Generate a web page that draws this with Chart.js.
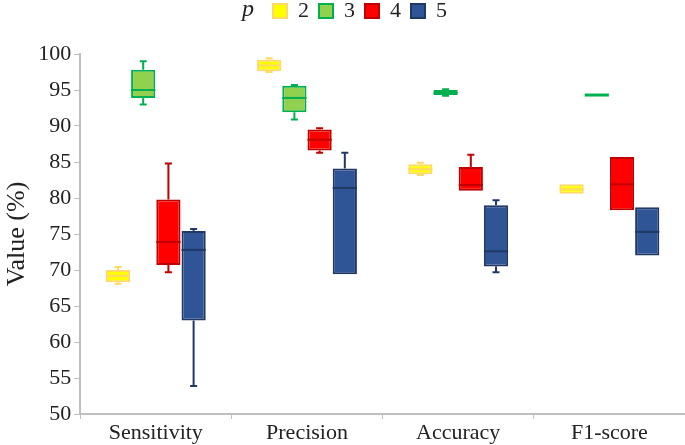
<!DOCTYPE html>
<html>
<head>
<meta charset="utf-8">
<script src="https://cdn.jsdelivr.net/npm/chart.js@4.4.1/dist/chart.umd.min.js"></script>
<style>
  html, body { margin: 0; padding: 0; background: #fff; }
  #wrap { width: 685px; height: 445px; position: relative; }
</style>
</head>
<body>
<div id="wrap"><canvas id="boxChart"></canvas></div>
<script>
// categories and legend names
const categories = ['Sensitivity', 'Precision', 'Accuracy', 'F1-score'];
const seriesNames = ['2', '3', '4', '5'];
const yTicks = [50, 55, 60, 65, 70, 75, 80, 85, 90, 95, 100];

// [min, q1, median, q3, max] per category, one list per p
const p2Stats = [[68.1, 68.3, 69.2, 70.0, 70.4], [97.5, 97.6, 98.4, 99.2, 99.4], [83.2, 83.3, 84.0, 84.7, 84.9], [80.6, 80.6, 81.2, 81.9, 81.9]];
const p3Stats = [[93.0, 93.9, 95.0, 97.8, 99.0], [90.9, 91.9, 93.9, 95.6, 95.7], [94.2, 94.3, 94.6, 95.0, 95.1], [94.3, 94.3, 94.3, 94.3, 94.3]];
const p4Stats = [[69.7, 70.7, 73.9, 79.8, 84.8], [86.3, 86.6, 88.1, 89.5, 89.7], [81.0, 81.0, 81.8, 84.3, 86.0], [78.3, 78.3, 81.9, 85.7, 85.7]];
const p5Stats = [[53.9, 63.0, 72.8, 75.4, 75.7], [69.4, 69.4, 81.4, 84.1, 86.3], [69.7, 70.5, 72.6, 79.0, 79.7], [72.0, 72.0, 75.3, 78.7, 78.7]];

const allStats = [p2Stats, p3Stats, p4Stats, p5Stats];
const fills = ['#FFFF00', '#92D050', '#FF0000', '#2F5597'];
const borders = ['#FFD966', '#00B050', '#C00000', '#203864'];

const serif = "'Liberation Serif', 'Times New Roman', serif";
const axisGrey = '#BFBFBF';

// whiskers + medians drawn on top of the floating bars
const boxParts = {
  id: 'boxParts',
  afterDatasetsDraw(chart) {
    const ctx = chart.ctx;
    const y = chart.scales.y;
    chart.data.datasets.forEach((ds, i) => {
      const meta = chart.getDatasetMeta(i);
      meta.data.forEach((bar, j) => {
        const s = allStats[i][j];
        const half = bar.width / 2;
        const cap = 3.5;
        ctx.save();
        ctx.strokeStyle = borders[i];
        ctx.lineWidth = 2;
        if (s[4] > s[3]) {
          ctx.beginPath();
          ctx.moveTo(bar.x, y.getPixelForValue(s[3]));
          ctx.lineTo(bar.x, y.getPixelForValue(s[4]));
          ctx.moveTo(bar.x - cap, y.getPixelForValue(s[4]));
          ctx.lineTo(bar.x + cap, y.getPixelForValue(s[4]));
          ctx.stroke();
        }
        if (s[0] < s[1]) {
          ctx.beginPath();
          ctx.moveTo(bar.x, y.getPixelForValue(s[1]));
          ctx.lineTo(bar.x, y.getPixelForValue(s[0]));
          ctx.moveTo(bar.x - cap, y.getPixelForValue(s[0]));
          ctx.lineTo(bar.x + cap, y.getPixelForValue(s[0]));
          ctx.stroke();
        }
        ctx.lineWidth = s[3] > s[1] ? 2 : 3;
        ctx.beginPath();
        ctx.moveTo(bar.x - half, y.getPixelForValue(s[2]));
        ctx.lineTo(bar.x + half, y.getPixelForValue(s[2]));
        ctx.stroke();
        ctx.restore();
      });
    });
  }
};

// italic "p" in front of the legend, plus extra room under the legend
const legendTitle = {
  id: 'legendTitle',
  beforeInit(chart) {
    const fit = chart.legend.fit;
    chart.legend.fit = function () {
      fit.bind(this)();
      this.height += 22;
    };
  },
  afterDraw(chart) {
    const box = chart.legend.legendHitBoxes[0];
    const ctx = chart.ctx;
    ctx.save();
    ctx.font = 'italic 24px ' + serif;
    ctx.fillStyle = '#222';
    ctx.textAlign = 'center';
    ctx.textBaseline = 'middle';
    ctx.fillText('p', box.left + 10, box.top + box.height / 2 - 1);
    ctx.restore();
  }
};

const chart = new Chart(document.getElementById('boxChart'), {
  type: 'bar',
  data: {
    labels: categories,
    datasets: seriesNames.map((name, i) => ({
      label: name,
      data: allStats[i].map(s => [s[1], s[3]]),
      backgroundColor: fills[i],
      borderColor: borders[i],
      borderWidth: 2,
      borderSkipped: false,
      categoryPercentage: 0.667,
      barPercentage: 0.96
    }))
  },
  options: {
    responsive: true,
    maintainAspectRatio: false,
    animation: false,
    layout: { padding: { left: 0, right: 0, top: -10, bottom: -2 } },
    plugins: {
      tooltip: { enabled: false },
      legend: {
        position: 'top',
        labels: {
          boxWidth: 14,
          boxHeight: 14,
          padding: 10,
          color: '#222',
          font: { family: serif, size: 22 },
          generateLabels(chart) {
            const items = Chart.defaults.plugins.legend.labels.generateLabels(chart);
            items.unshift({ text: '', fillStyle: 'rgba(0,0,0,0)', strokeStyle: 'rgba(0,0,0,0)', lineWidth: 0, datasetIndex: -1 });
            return items;
          }
        }
      }
    },
    scales: {
      x: {
        grid: { display: true, drawOnChartArea: false, drawTicks: true, tickLength: 5, color: axisGrey, offset: true },
        border: { color: axisGrey, width: 2 },
        ticks: { color: '#222', font: { family: serif, size: 22, lineHeight: 1 }, padding: 3 }
      },
      y: {
        min: 50,
        max: 100,
        afterBuildTicks(scale) { scale.ticks = yTicks.map(v => ({ value: v })); },
        grid: { display: true, drawOnChartArea: false, drawTicks: true, tickLength: 6, color: axisGrey },
        border: { color: axisGrey, width: 2 },
        ticks: { color: '#222', font: { family: serif, size: 22 }, padding: 3 },
        title: { display: true, text: 'Value (%)', color: '#222', font: { family: serif, size: 26 }, padding: 2 }
      }
    }
  },
  plugins: [boxParts, legendTitle]
});
</script>
</body>
</html>
